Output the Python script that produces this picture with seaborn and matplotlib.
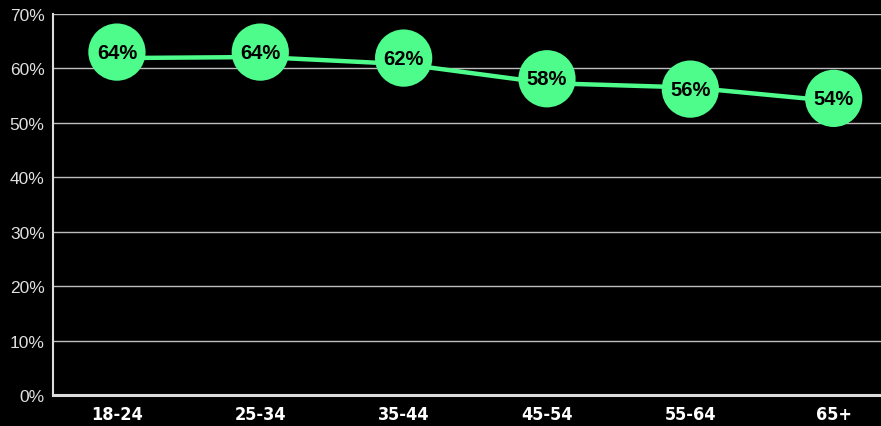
import matplotlib
matplotlib.use("Agg")
import matplotlib.pyplot as plt
import seaborn as sns
import pandas as pd
from matplotlib.ticker import FuncFormatter
from matplotlib import font_manager

categories = ["18-24", "25-34", "35-44", "45-54", "55-64", "65+"]
point_values = [63.0, 63.0, 61.9, 58.1, 56.2, 54.5]
line_values = [61.9, 62.1, 60.8, 57.3, 56.5, 54.0]
labels = ["64%", "64%", "62%", "58%", "56%", "54%"]

df = pd.DataFrame({"age": categories, "point": point_values, "line": line_values,
                   "label": labels})
df["x"] = range(len(categories))

sns.set_style("dark")
plt.rcParams["font.family"] = ["Liberation Sans", "DejaVu Sans"]

names = {f.name for f in font_manager.fontManager.ttflist}
narrow = "Liberation Sans Narrow" if "Liberation Sans Narrow" in names else None

green = "#4DFC8A"
fig = plt.figure(figsize=(8.81, 4.27), dpi=100, facecolor="black")
ax = fig.add_axes([53 / 881, 31 / 427, 828 / 881, 381 / 427])
ax.set_facecolor("black")

for y in range(10, 71, 10):
    ax.axhline(y, color="#bdbdbd", lw=1.0, zorder=1)

sns.lineplot(data=df, x="x", y="line", ax=ax, color=green, lw=3.2, zorder=3)
sns.scatterplot(data=df, x="x", y="point", ax=ax, color=green, s=1700,
                edgecolor="none", zorder=4)
for _, r in df.iterrows():
    ax.text(r["x"], r["point"], r["label"], ha="center", va="center",
            fontsize=14.5, fontweight="bold", color="black", zorder=5)

ax.set_xlim(-0.446, 5.33)
ax.set_ylim(0, 70)
ax.set_xticks(df["x"])
if narrow:
    ax.set_xticklabels(categories, fontsize=14, fontweight="bold", color="white",
                       family=[narrow, "Liberation Sans"])
else:
    ax.set_xticklabels(categories, fontsize=13, fontweight="bold", color="white",
                       family=["DejaVu Sans"], fontstretch="condensed")
ax.set_yticks(range(0, 71, 10))
ax.yaxis.set_major_formatter(FuncFormatter(lambda v, p: f"{int(v)}%"))
ax.tick_params(axis="y", colors="#e0e0e0", labelsize=12.5, length=0, pad=6)
ax.tick_params(axis="x", length=0, pad=7)
ax.set_xlabel("")
ax.set_ylabel("")
ax.grid(False)
for s in ["top", "right"]:
    ax.spines[s].set_visible(False)
ax.spines["left"].set_color("#dcdcdc")
ax.spines["left"].set_linewidth(1.5)
ax.spines["bottom"].set_color("#dcdcdc")
ax.spines["bottom"].set_linewidth(2.2)
ax.spines["bottom"].set_zorder(6)

fig.savefig("out.png", dpi=100, facecolor="black")
